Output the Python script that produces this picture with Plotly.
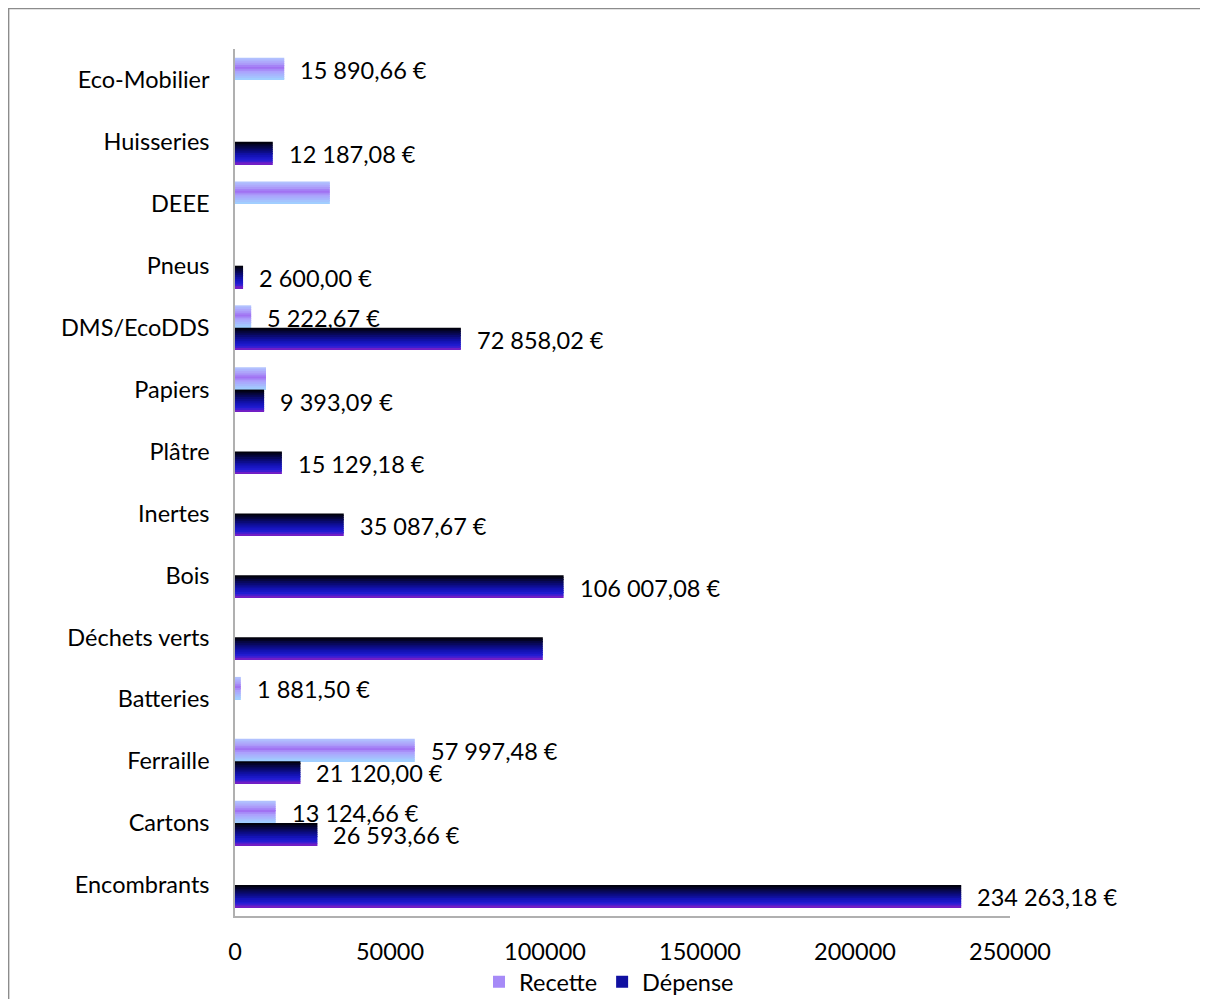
import plotly.graph_objects as go

# ---------------- data ----------------
categories = ["Encombrants", "Cartons", "Ferraille", "Batteries", "Déchets verts",
              "Bois", "Inertes", "Plâtre", "Papiers", "DMS/EcoDDS", "Pneus",
              "DEEE", "Huisseries", "Eco-Mobilier"]

recette = [None, 13124.66, 57997.48, 1881.50, None,
           None, None, None, 10000, 5222.67, None,
           30600, None, 15890.66]
recette_labelled = [False, True, True, True, False,
                    False, False, False, False, True, False,
                    False, False, True]

depense = [234263.18, 26593.66, 21120.00, None, 99300,
           106007.08, 35087.67, 15129.18, 9393.09, 72858.02, 2600.00,
           None, 12187.08, None]
depense_labelled = [True, True, True, False, False,
                    True, True, True, True, True, True,
                    False, True, False]

x_ticks = [0, 50000, 100000, 150000, 200000, 250000]
series_names = ["Recette", "Dépense"]

# ---------------- style ----------------
FONT = "Lato"
FS = 23.5
BAR_H = 0.36          # thickness of one bar in category units
N_SLICES = 12         # slices used to imitate the gradient fill

recette_stops = [(0.0, (178, 200, 255)), (0.28, (172, 156, 250)), (0.45, (160, 112, 242)),
                 (0.62, (172, 160, 252)), (1.0, (160, 212, 255))]
depense_stops = [(0.0, (0, 0, 0)), (0.3, (8, 8, 92)), (0.6, (18, 18, 178)),
                 (0.84, (36, 30, 215)), (1.0, (140, 30, 190))]


def grad(stops, t):
    for (t0, c0), (t1, c1) in zip(stops[:-1], stops[1:]):
        if t0 <= t <= t1:
            f = (t - t0) / (t1 - t0) if t1 > t0 else 0
            c = [round(a + (b - a) * f) for a, b in zip(c0, c1)]
            return "rgb(%d,%d,%d)" % tuple(c)
    return "rgb(%d,%d,%d)" % stops[-1][1]


def euro(v):
    s = f"{v:,.2f}".replace(",", " ").replace(".", ",")
    return s + " €"


fig = go.Figure()
s = BAR_H / N_SLICES
for name, vals, stops, top in [("Recette", recette, recette_stops, BAR_H),
                               ("Dépense", depense, depense_stops, 0.0)]:
    for k in range(N_SLICES):
        t = (k + 0.5) / N_SLICES
        fig.add_trace(go.Bar(
            x=vals, y=categories, orientation="h",
            width=s * 1.02, offset=top - (k + 1) * s,
            marker=dict(color=grad(stops, t), line=dict(width=0)),
            name=name, legendgroup=name,
            showlegend=(k == N_SLICES // 2),
            hoverinfo="skip",
        ))

annotations = []
for vals, flags, shift in [(recette, recette_labelled, BAR_H / 2),
                           (depense, depense_labelled, -BAR_H / 2)]:
    for cat, v, f in zip(categories, vals, flags):
        if v is not None and f:
            annotations.append(dict(
                x=v, y=cat, xref="x", yref="y", text=euro(v),
                showarrow=False, xanchor="left", yanchor="middle",
                xshift=14, yshift=shift * 62 - 1,
                font=dict(family=FONT, size=FS, color="#000"),
            ))

fig.update_layout(
    width=1208, height=999,
    margin=dict(l=227, r=206, t=41, b=91, autoexpand=False),
    paper_bgcolor="white", plot_bgcolor="white",
    barmode="overlay",
    font=dict(family=FONT, size=FS, color="#000"),
    showlegend=True,
    legend=dict(orientation="h", x=0.4826, xanchor="center", y=-0.0761, yanchor="middle",
                font=dict(family=FONT, size=FS, color="#000"), traceorder="normal",
                bgcolor="rgba(0,0,0,0)", itemwidth=30),
    annotations=annotations,
    shapes=[dict(type="rect", xref="paper", yref="paper",
                 x0=-227 / 775 + 0.0008, x1=1.6, y0=-0.5, y1=1 + 40.5 / 867,
                 line=dict(color="#8c8c8c", width=1.5), fillcolor="rgba(0,0,0,0)",
                 layer="below")],
)
fig.update_xaxes(range=[0, 250000], tickvals=x_ticks, ticktext=[str(v) for v in x_ticks],
                 showgrid=False, zeroline=False, showline=True, linecolor="#b0b0b0",
                 linewidth=1.5, ticks="", ticklabelstandoff=14,
                 tickfont=dict(family=FONT, size=FS, color="#000"))
fig.update_yaxes(type="category", categoryorder="array", categoryarray=categories,
                 range=[-0.5, len(categories) - 0.5],
                 showgrid=False, zeroline=False, showline=True, linecolor="#b0b0b0",
                 linewidth=1.5, ticks="", ticklabelstandoff=19,
                 tickfont=dict(family=FONT, size=FS, color="#000"))

fig.write_html("out.html")
